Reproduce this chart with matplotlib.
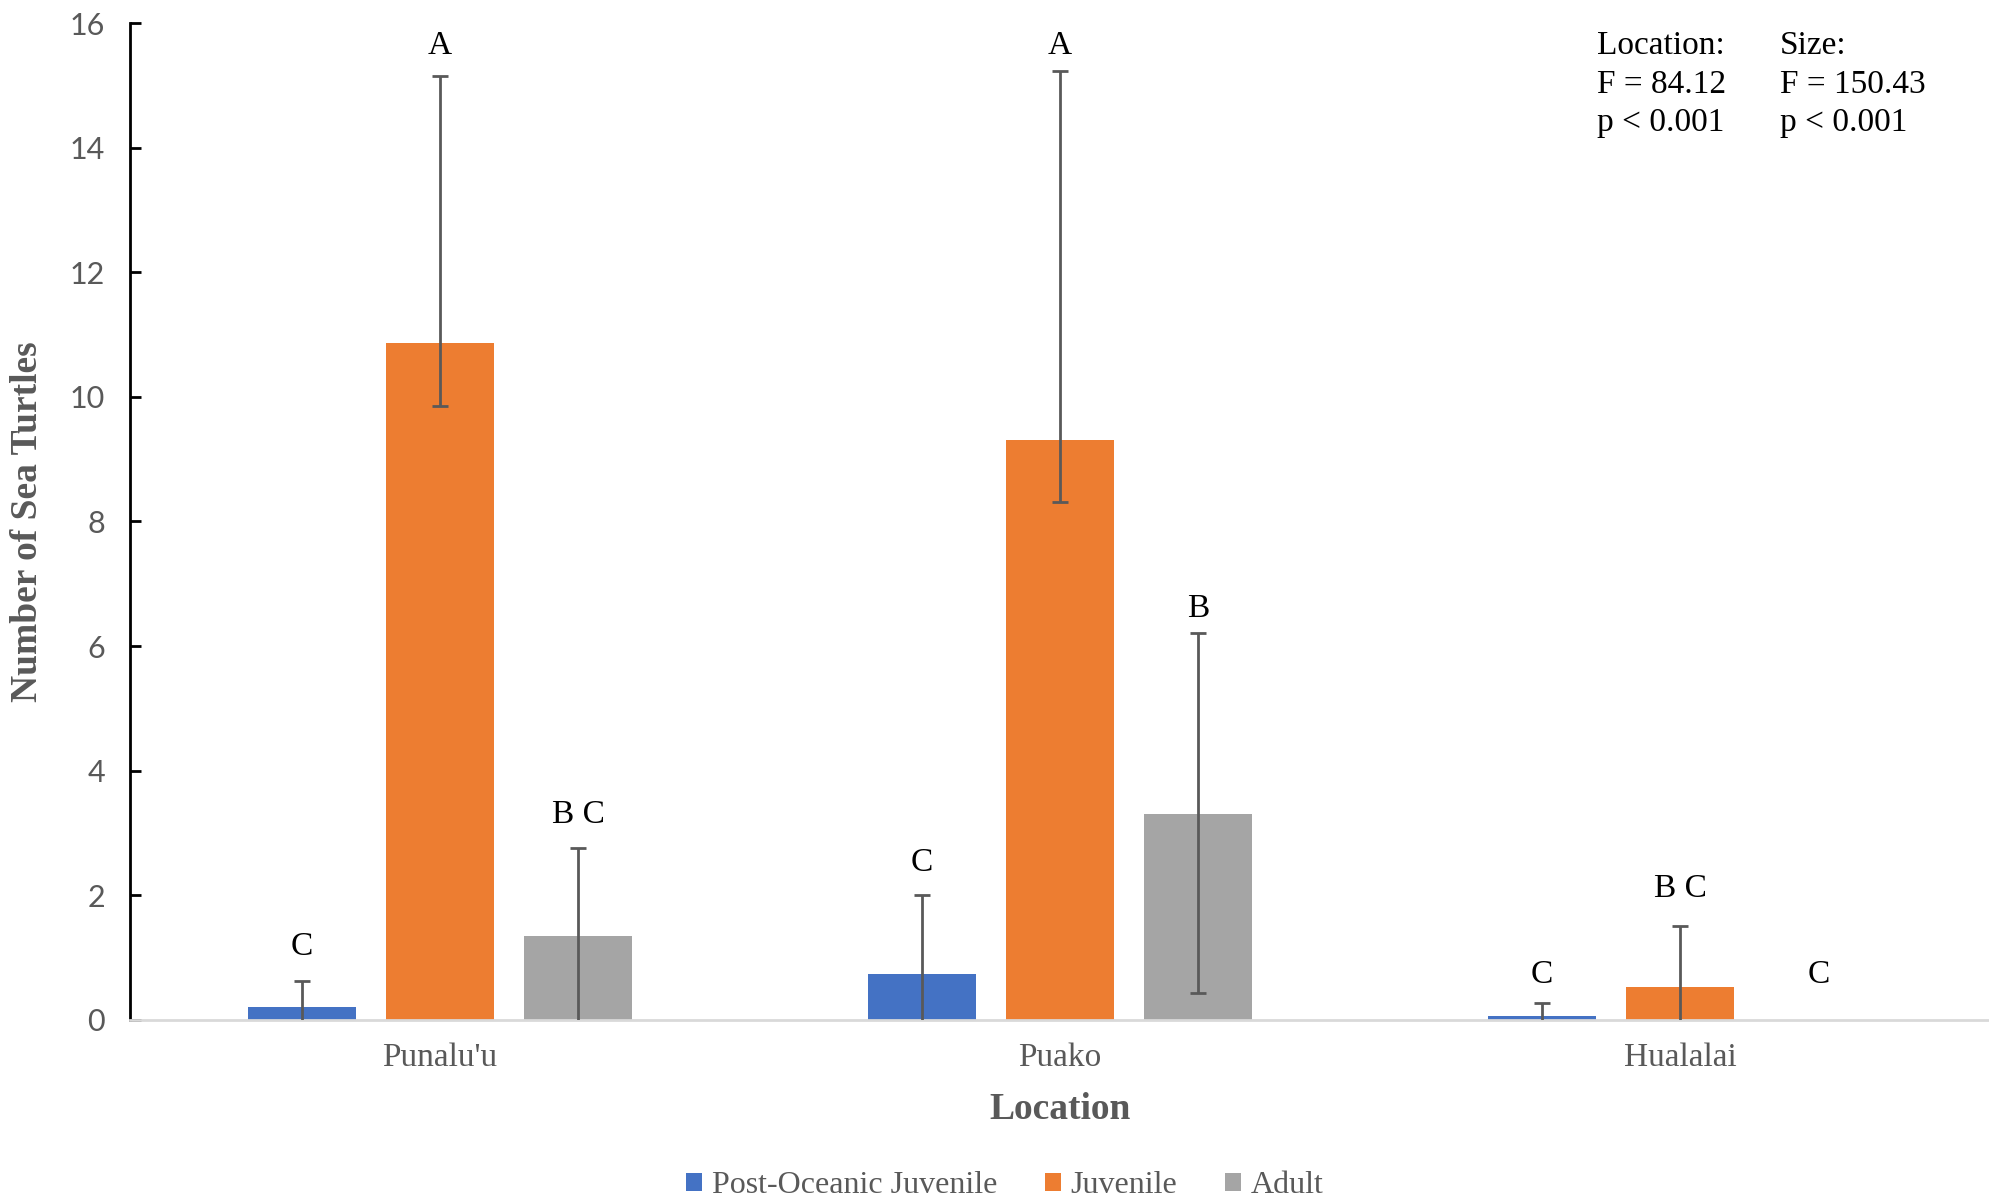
#!/usr/bin/env python3
"""Sea turtle counts by location and size class, grouped bars with error bars."""

import matplotlib
matplotlib.use("Agg")
import matplotlib.pyplot as plt
import numpy as np

locations = ["Punalu'u", "Puako", "Hualalai"]
size_classes = ["Post-Oceanic Juvenile", "Juvenile", "Adult"]
colors = ["#4472C4", "#ED7D31", "#A5A5A5"]

post_oceanic = [0.21, 0.74, 0.06]
juvenile = [10.86, 9.31, 0.53]
adult = [1.34, 3.31, 0.0]

post_oceanic_err_up = [0.42, 1.27, 0.22]
juvenile_err_up = [4.29, 5.92, 0.98]
adult_err_up = [1.42, 2.90, 0.0]

post_oceanic_err_low = [0.42, 1.27, 0.22]
juvenile_err_low = [1.0, 1.0, 0.98]
adult_err_low = [1.42, 2.88, 0.0]

# significance letters per location (post-oceanic, juvenile, adult) and their heights
letters = [["C", "A", "B C"], ["C", "A", "B"], ["C", "B C", "C"]]
letter_y = [[1.17, 15.63, 3.29], [2.53, 15.63, 6.6], [0.73, 2.1, 0.73]]

serif = "Liberation Serif"
sans = "Lato"


def main() -> None:
    values = [post_oceanic, juvenile, adult]
    err_up = [post_oceanic_err_up, juvenile_err_up, adult_err_up]
    err_low = [post_oceanic_err_low, juvenile_err_low, adult_err_low]

    fig = plt.figure(figsize=(19.9, 11.98), dpi=100)
    ax = fig.add_axes([0.0653, 0.1486, 0.9347, 0.8322])
    x = np.arange(len(locations))
    width, step = 0.174, 0.223

    for k, name in enumerate(size_classes):
        pos = x + (k - 1) * step
        ax.bar(pos, values[k], width, color=colors[k], label=name, zorder=2)
        has_err = np.array(err_up[k]) > 0
        ax.errorbar(pos[has_err], np.array(values[k])[has_err],
                    yerr=[np.array(err_low[k])[has_err], np.array(err_up[k])[has_err]],
                    fmt="none", ecolor="#595959", elinewidth=2, capsize=6, capthick=2, zorder=3)
        for i in range(len(locations)):
            ax.text(pos[i], letter_y[i][k], letters[i][k], ha="center", va="center",
                    fontsize=24, family=serif, color="black")

    ax.set_xlim(-0.5, 2.5)
    ax.set_ylim(0, 16)
    ax.set_yticks(range(0, 17, 2))
    ax.set_xticks(x, locations)
    ax.tick_params(axis="y", direction="in", length=8, width=2, labelsize=22,
                   labelcolor="#595959", pad=18)
    ax.tick_params(axis="x", length=0, labelsize=24, labelcolor="#595959", pad=16)
    for lab in ax.get_yticklabels():
        lab.set_family(sans)
    for lab in ax.get_xticklabels():
        lab.set_family(serif)
    ax.spines[["top", "right"]].set_visible(False)
    ax.spines["left"].set_linewidth(2)
    ax.spines["bottom"].set_color("#D9D9D9")
    ax.spines["bottom"].set_linewidth(2)
    ax.set_xlabel("Location", fontsize=27, fontweight="bold", family=serif,
                  color="#595959", labelpad=14)
    ax.set_ylabel("Number of Sea Turtles", fontsize=27, fontweight="bold", family=serif,
                  color="#595959", labelpad=18)

    stats = [("Location:", "F = 84.12", "p < 0.001"), ("Size:", "F = 150.43", "p < 0.001")]
    for col, xf in zip(stats, [0.8025, 0.8945]):
        for row, line in enumerate(col):
            fig.text(xf, 1 - (46 + row * 38.5) / 1198, line, ha="left", va="center",
                     fontsize=24, family=serif, color="black")

    fig.legend(loc="lower center", bbox_to_anchor=(0.505, -0.026), ncol=3, frameon=False,
               prop={"family": serif, "size": 23}, labelcolor="#595959",
               handlelength=0.5, handleheight=0.5, handletextpad=0.3, columnspacing=1.5)

    fig.savefig("out.png", dpi=100)
    plt.close(fig)


if __name__ == "__main__":
    main()
